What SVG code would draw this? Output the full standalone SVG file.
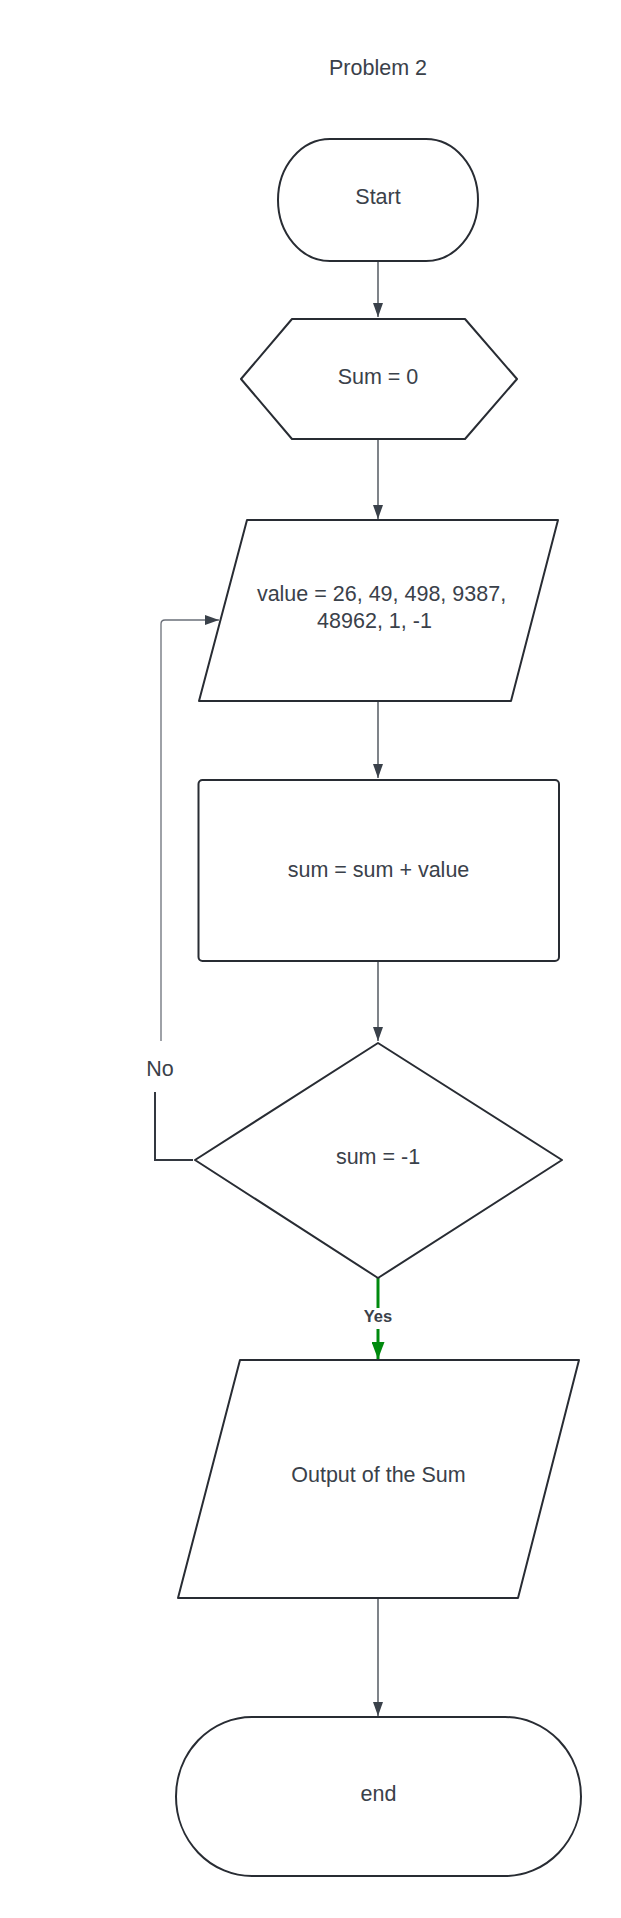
<svg xmlns="http://www.w3.org/2000/svg" width="621" height="1918" viewBox="0 0 621 1918">
<style>
.shape{fill:#ffffff;stroke:#282c33;stroke-width:2;stroke-linejoin:round}
.lbl{font-family:"Liberation Sans",Arial,sans-serif;font-size:21.5px;fill:#3a414a;text-anchor:middle}
.conn{fill:none;stroke:#3a414a;stroke-width:1.3}
.loop{fill:none;stroke:#6b7079;stroke-width:1.3}
.noseg{fill:none;stroke:#333840;stroke-width:2}
.yes{fill:none;stroke:#008a0e;stroke-width:3}
.yeslbl{font-family:"Liberation Sans",Arial,sans-serif;font-size:16.5px;font-weight:bold;fill:#3a414a;text-anchor:middle}
</style>
<defs>
<marker id="ah" viewBox="0 0 14 10" refX="14" refY="5" markerWidth="14" markerHeight="10" markerUnits="userSpaceOnUse" orient="auto">
<path d="M0,0 L14,5 L0,10 Z" fill="#3a414a"/>
</marker>
<marker id="ahg" viewBox="0 0 17 13" refX="17" refY="6.5" markerWidth="17" markerHeight="13" markerUnits="userSpaceOnUse" orient="auto">
<path d="M0,0 L17,6.5 L0,13 Z" fill="#008a0e"/>
</marker>
</defs>
<rect width="621" height="1918" fill="#ffffff"/>
<text class="lbl" x="378" y="75">Problem 2</text>

<g id="connectors">
<path class="conn" d="M378,261 L378,317" marker-end="url(#ah)"/>
<path class="conn" d="M378,440 L378,519" marker-end="url(#ah)"/>
<path class="conn" d="M378,701 L378,778" marker-end="url(#ah)"/>
<path class="conn" d="M378,961 L378,1041" marker-end="url(#ah)"/>
<path class="loop" d="M161,1041 L161,624 Q161,620 165,620 L219,620" marker-end="url(#ah)"/>
<path class="noseg" d="M155,1092 L155,1160 L193,1160"/>
<text class="lbl" x="160" y="1076">No</text>
<path class="yes" d="M378,1278 L378,1308"/>
<path class="yes" d="M378,1329 L378,1359" marker-end="url(#ahg)"/>
<text class="yeslbl" x="378" y="1322">Yes</text>
<path class="conn" d="M378,1598 L378,1716" marker-end="url(#ah)"/>
</g>

<g id="start">
<rect class="shape" x="278" y="139" width="200" height="122" rx="52" ry="61"/>
<text class="lbl" x="378" y="204">Start</text>
</g>

<g id="init">
<path class="shape" d="M241,379 L292,319 L465,319 L517,379 L465,439 L292,439 Z"/>
<text class="lbl" x="378" y="384">Sum = 0</text>
</g>

<g id="input">
<path class="shape" d="M247,520 L558,520 L511,701 L199,701 Z"/>
<text class="lbl" x="381.5" y="601">value = 26, 49, 498, 9387,</text>
<text class="lbl" x="374.5" y="628">48962, 1, -1</text>
</g>

<g id="process">
<rect class="shape" x="198.5" y="780" width="360.5" height="181" rx="4"/>
<text class="lbl" x="378.5" y="877">sum = sum + value</text>
</g>

<g id="decision">
<path class="shape" d="M378,1043 L562,1160 L378,1278 L195,1160 Z"/>
<text class="lbl" x="378" y="1164">sum = -1</text>
</g>

<g id="output">
<path class="shape" d="M240,1360 L579,1360 L518,1598 L178,1598 Z"/>
<text class="lbl" x="378.5" y="1482">Output of the Sum</text>
</g>

<g id="end">
<rect class="shape" x="176" y="1717" width="405" height="159" rx="76" ry="79.5"/>
<text class="lbl" x="378.5" y="1801">end</text>
</g>
</svg>
